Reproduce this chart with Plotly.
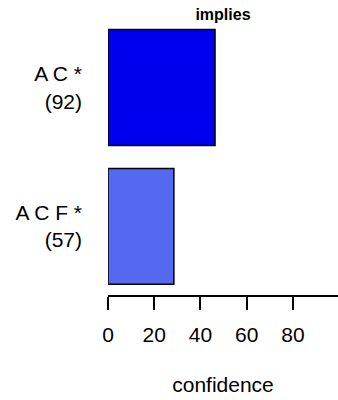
import plotly.graph_objects as go

categories = ["A C F *<br>(57)", "A C *<br>(92)"]
positions = [0.7, 1.9]
confidence = [28.5, 46.3]
bar_colors = ["#5468F0", "#0000EE"]
x_ticks = [0, 20, 40, 60, 80]

FONT = "Liberation Sans, Arial, sans-serif"

fig = go.Figure(go.Bar(
    x=confidence, y=positions, orientation="h", width=1.0,
    marker=dict(color=bar_colors, line=dict(color="black", width=1.5)),
    hoverinfo="skip",
))

fig.update_layout(
    width=338, height=400,
    margin=dict(l=108, r=0, t=20, b=105),
    plot_bgcolor="white", paper_bgcolor="white",
    showlegend=False,
    font=dict(family=FONT, size=21, color="black"),
    title=dict(text="<b>implies</b>", x=0.5, xref="paper",
               xanchor="center", y=1 - 14 / 400, yref="container", yanchor="middle",
               font=dict(family=FONT, size=16, color="black")),
    xaxis=dict(range=[0, 99.5], tickvals=x_ticks, ticktext=[str(v) for v in x_ticks],
               showgrid=False, zeroline=False, showline=True, linecolor="black",
               linewidth=1.5, ticks="outside", ticklen=13, tickwidth=1.5, tickcolor="black",
               ticklabelstandoff=7, tickfont=dict(size=21),
               title=dict(text="confidence", standoff=32, font=dict(size=21)),
               automargin=False),
    yaxis=dict(range=[0.108, 2.483], tickvals=positions, ticktext=categories,
               showgrid=False, zeroline=False, showline=False, ticks="",
               ticklabelstandoff=25, tickfont=dict(size=21), automargin=False),
)

fig.write_html("out.html",
               config={"displayModeBar": False},
               post_script="document.body.style.margin='0';document.body.style.padding='0';")
